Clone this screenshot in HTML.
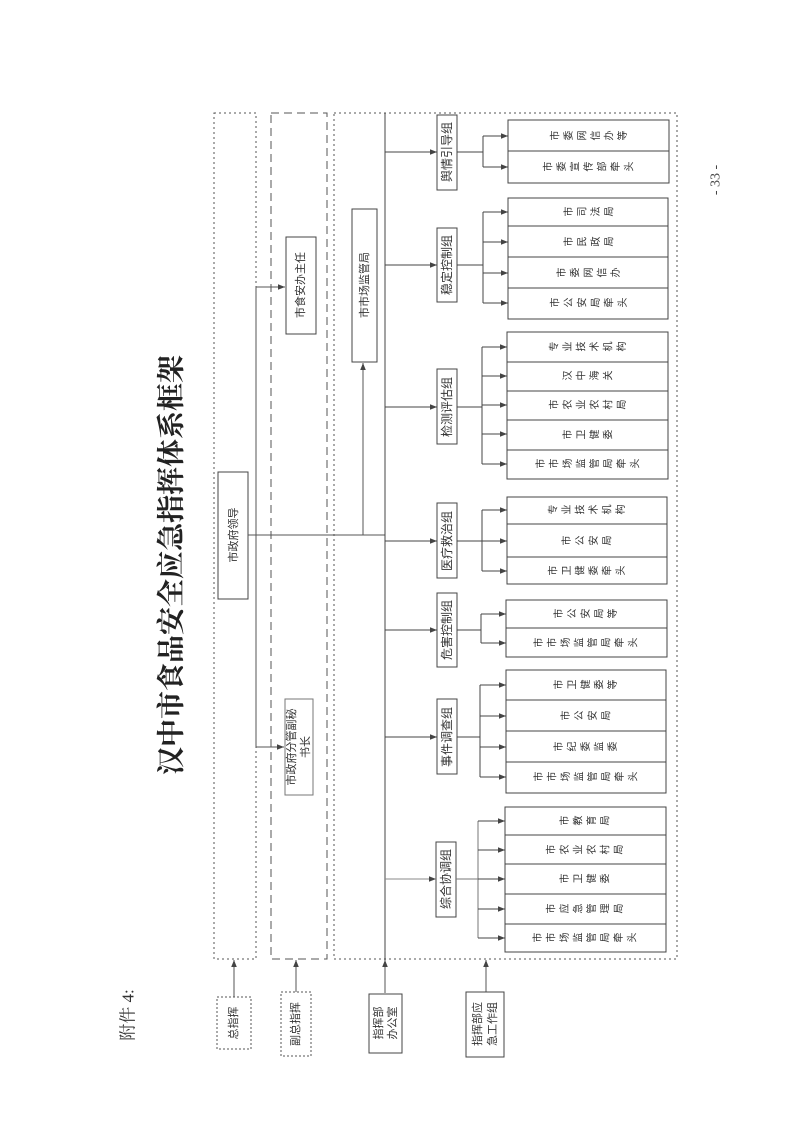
<!DOCTYPE html>
<html><head><meta charset="utf-8"><style>
html,body{margin:0;padding:0;background:#fff;}
body{position:relative;width:793px;height:1121px;overflow:hidden;}
svg{display:block;position:absolute;left:0;top:0;}
text{font-family:"Liberation Sans","Noto Sans CJK SC",sans-serif;fill:#333;}
.c{position:absolute;writing-mode:vertical-rl;text-orientation:upright;transform:translate(-50%,-50%) rotate(-90deg);white-space:nowrap;font-family:"Noto Sans CJK SC",sans-serif;font-size:10px;letter-spacing:3.5px;color:#333;line-height:12px;}
</style></head><body>
<svg width="793" height="1121" viewBox="0 0 793 1121" xmlns="http://www.w3.org/2000/svg">
<defs>
<marker id="a" viewBox="0 0 10 10" refX="10" refY="5" markerWidth="7" markerHeight="7" orient="auto"><path d="M0,1 L10,5 L0,9 z" fill="#444"/></marker>
</defs>
<g stroke="#555" fill="none" stroke-width="1">
<rect x="214" y="113" width="42" height="846" stroke-dasharray="2,3"/>
<rect x="271" y="113" width="56" height="846" stroke-dasharray="8,5"/>
<rect x="334" y="113" width="343" height="846" stroke-dasharray="2,3"/>
<rect x="218" y="472" width="30" height="127" stroke="#444"/>
<rect x="286" y="237" width="30" height="97" stroke="#444"/>
<rect x="285" y="699" width="28" height="96" stroke="#777"/>
<rect x="352" y="209" width="25" height="153" stroke="#444"/>
<path d="M248,535 H385"/>
<path d="M256,287 V747"/>
<path d="M256,287 H285" marker-end="url(#a)"/>
<path d="M256,747 H284" marker-end="url(#a)"/>
<path d="M363,535 V363" marker-end="url(#a)"/>
<path d="M385,113 V993" stroke="#444"/>
<path d="M234,997 V960" marker-end="url(#a)"/>
<path d="M296,992 V960" marker-end="url(#a)"/>
<path d="M385,993 V960" marker-end="url(#a)"/>
<path d="M486,992 V960" marker-end="url(#a)"/>
<rect x="217" y="997" width="34" height="52" stroke-dasharray="2,2"/>
<rect x="281" y="992" width="30" height="64" stroke-dasharray="2,2"/>
<rect x="369" y="994" width="33" height="59" stroke="#444"/>
<rect x="466" y="992" width="38" height="65" stroke="#444"/>
</g>
<g stroke="#444" fill="none" stroke-width="1">
<rect x="437" y="115" width="20" height="75"/>
<rect x="437" y="228" width="20" height="74"/>
<rect x="437" y="369" width="20" height="75"/>
<rect x="437" y="503" width="20" height="75"/>
<rect x="437" y="593" width="20" height="74"/>
<rect x="437" y="699" width="20" height="75"/>
<rect x="436" y="842" width="20" height="75"/>
<path d="M385,152 H437" marker-end="url(#a)"/>
<path d="M385,265 H437" marker-end="url(#a)"/>
<path d="M385,407 H437" marker-end="url(#a)"/>
<path d="M385,541 H437" marker-end="url(#a)"/>
<path d="M385,630 H437" marker-end="url(#a)"/>
<path d="M385,737 H437" marker-end="url(#a)"/>
<path d="M385,879 H436" stroke="#888" marker-end="url(#a)"/>
<path d="M457,152 H483 M483,136 V167"/>
<path d="M483,136 H508" marker-end="url(#a)"/><path d="M483,167 H508" marker-end="url(#a)"/>
<rect x="508" y="120" width="161" height="63"/><path d="M508,151 H669"/>
<path d="M457,265 H483 M483,212 V303"/>
<path d="M483,212 H508" marker-end="url(#a)"/><path d="M483,242 H508" marker-end="url(#a)"/><path d="M483,273 H508" marker-end="url(#a)"/><path d="M483,303 H508" marker-end="url(#a)"/>
<rect x="508" y="198" width="160" height="121"/><path d="M508,226 H668 M508,257 H668 M508,288 H668"/>
<path d="M457,407 H482 M482,347 V464"/>
<path d="M482,347 H507" marker-end="url(#a)"/><path d="M482,376 H507" marker-end="url(#a)"/><path d="M482,405 H507" marker-end="url(#a)"/><path d="M482,434 H507" marker-end="url(#a)"/><path d="M482,464 H507" marker-end="url(#a)"/>
<rect x="507" y="332" width="161" height="147"/><path d="M507,362 H668 M507,391 H668 M507,420 H668 M507,450 H668"/>
<path d="M457,541 H482 M482,510 V571"/>
<path d="M482,510 H507" marker-end="url(#a)"/><path d="M482,541 H507" marker-end="url(#a)"/><path d="M482,571 H507" marker-end="url(#a)"/>
<rect x="507" y="497" width="160" height="87"/><path d="M507,524 H667 M507,557 H667"/>
<path d="M457,630 H481 M481,614 V643"/>
<path d="M481,614 H506" marker-end="url(#a)"/><path d="M481,643 H506" marker-end="url(#a)"/>
<rect x="506" y="600" width="161" height="57"/><path d="M506,628 H667"/>
<path d="M457,737 H480 M480,685 V777"/>
<path d="M480,685 H506" marker-end="url(#a)"/><path d="M480,716 H506" marker-end="url(#a)"/><path d="M480,747 H506" marker-end="url(#a)"/><path d="M480,777 H506" marker-end="url(#a)"/>
<rect x="506" y="670" width="160" height="123"/><path d="M506,700 H666 M506,731 H666 M506,762 H666"/>
<path d="M456,879 H478 M478,821 V938" stroke="#777"/>
<path d="M478,821 H505" marker-end="url(#a)"/><path d="M478,850 H505" marker-end="url(#a)"/><path d="M478,879 H505" marker-end="url(#a)"/><path d="M478,909 H505" marker-end="url(#a)"/><path d="M478,938 H505" marker-end="url(#a)"/>
<rect x="505" y="807" width="161" height="145"/><path d="M505,835 H666 M505,864 H666 M505,894 H666 M505,924 H666"/>
</g>
<g text-anchor="middle" dominant-baseline="central">
<text transform="translate(172,565) rotate(-90)" style="font-family:'Liberation Serif','Noto Serif CJK SC',serif;font-size:28px;font-weight:bold;fill:#222">汉中市食品安全应急指挥体系框架</text>
<text transform="translate(128,1015) rotate(-90)" style="font-family:'Liberation Serif','Noto Serif CJK SC',serif;font-size:17px;fill:#333">附件 4:</text>
<text transform="translate(716,180) rotate(-90)" style="font-family:'Liberation Serif',serif;font-size:14px;fill:#444">- 33 -</text>
<g font-size="11">
<text transform="translate(234,535) rotate(-90)">市政府领导</text>
<text transform="translate(301,285) rotate(-90)">市食安办主任</text>
<text transform="translate(292,747) rotate(-90)">市政府分管副秘</text>
<text transform="translate(306,747) rotate(-90)">书长</text>
<text transform="translate(365,285) rotate(-90)">市市场监管局</text>
<text transform="translate(234,1023) rotate(-90)">总指挥</text>
<text transform="translate(296,1024) rotate(-90)">副总指挥</text>
<text transform="translate(379,1023) rotate(-90)">指挥部</text>
<text transform="translate(393,1023) rotate(-90)">办公室</text>
<text transform="translate(478,1024) rotate(-90)">指挥部应</text>
<text transform="translate(493,1024) rotate(-90)">急工作组</text>
</g>
<g font-size="12" fill="#222">
<text transform="translate(447,152) rotate(-90)">舆情引导组</text>
<text transform="translate(447,265) rotate(-90)">稳定控制组</text>
<text transform="translate(447,407) rotate(-90)">检测评估组</text>
<text transform="translate(447,541) rotate(-90)">医疗救治组</text>
<text transform="translate(447,630) rotate(-90)">危害控制组</text>
<text transform="translate(447,737) rotate(-90)">事件调查组</text>
<text transform="translate(446,879) rotate(-90)">综合协调组</text>
</g>
</g>
</svg>
<div class="c" style="left:590px;top:136px">市委网信办等</div>
<div class="c" style="left:590px;top:167px">市委宣传部牵头</div>
<div class="c" style="left:590px;top:212px">市司法局</div>
<div class="c" style="left:590px;top:242px">市民政局</div>
<div class="c" style="left:590px;top:273px">市委网信办</div>
<div class="c" style="left:590px;top:303px">市公安局牵头</div>
<div class="c" style="left:589px;top:347px">专业技术机构</div>
<div class="c" style="left:589px;top:376px">汉中海关</div>
<div class="c" style="left:589px;top:405px">市农业农村局</div>
<div class="c" style="left:589px;top:435px">市卫健委</div>
<div class="c" style="left:589px;top:464px">市市场监管局牵头</div>
<div class="c" style="left:588px;top:510px">专业技术机构</div>
<div class="c" style="left:588px;top:541px">市公安局</div>
<div class="c" style="left:588px;top:571px">市卫健委牵头</div>
<div class="c" style="left:587px;top:614px">市公安局等</div>
<div class="c" style="left:587px;top:643px">市市场监管局牵头</div>
<div class="c" style="left:587px;top:685px">市卫健委等</div>
<div class="c" style="left:587px;top:716px">市公安局</div>
<div class="c" style="left:587px;top:747px">市纪委监委</div>
<div class="c" style="left:587px;top:777px">市市场监管局牵头</div>
<div class="c" style="left:586px;top:821px">市教育局</div>
<div class="c" style="left:586px;top:850px">市农业农村局</div>
<div class="c" style="left:586px;top:879px">市卫健委</div>
<div class="c" style="left:586px;top:909px">市应急管理局</div>
<div class="c" style="left:586px;top:938px">市市场监管局牵头</div>
</body></html>
